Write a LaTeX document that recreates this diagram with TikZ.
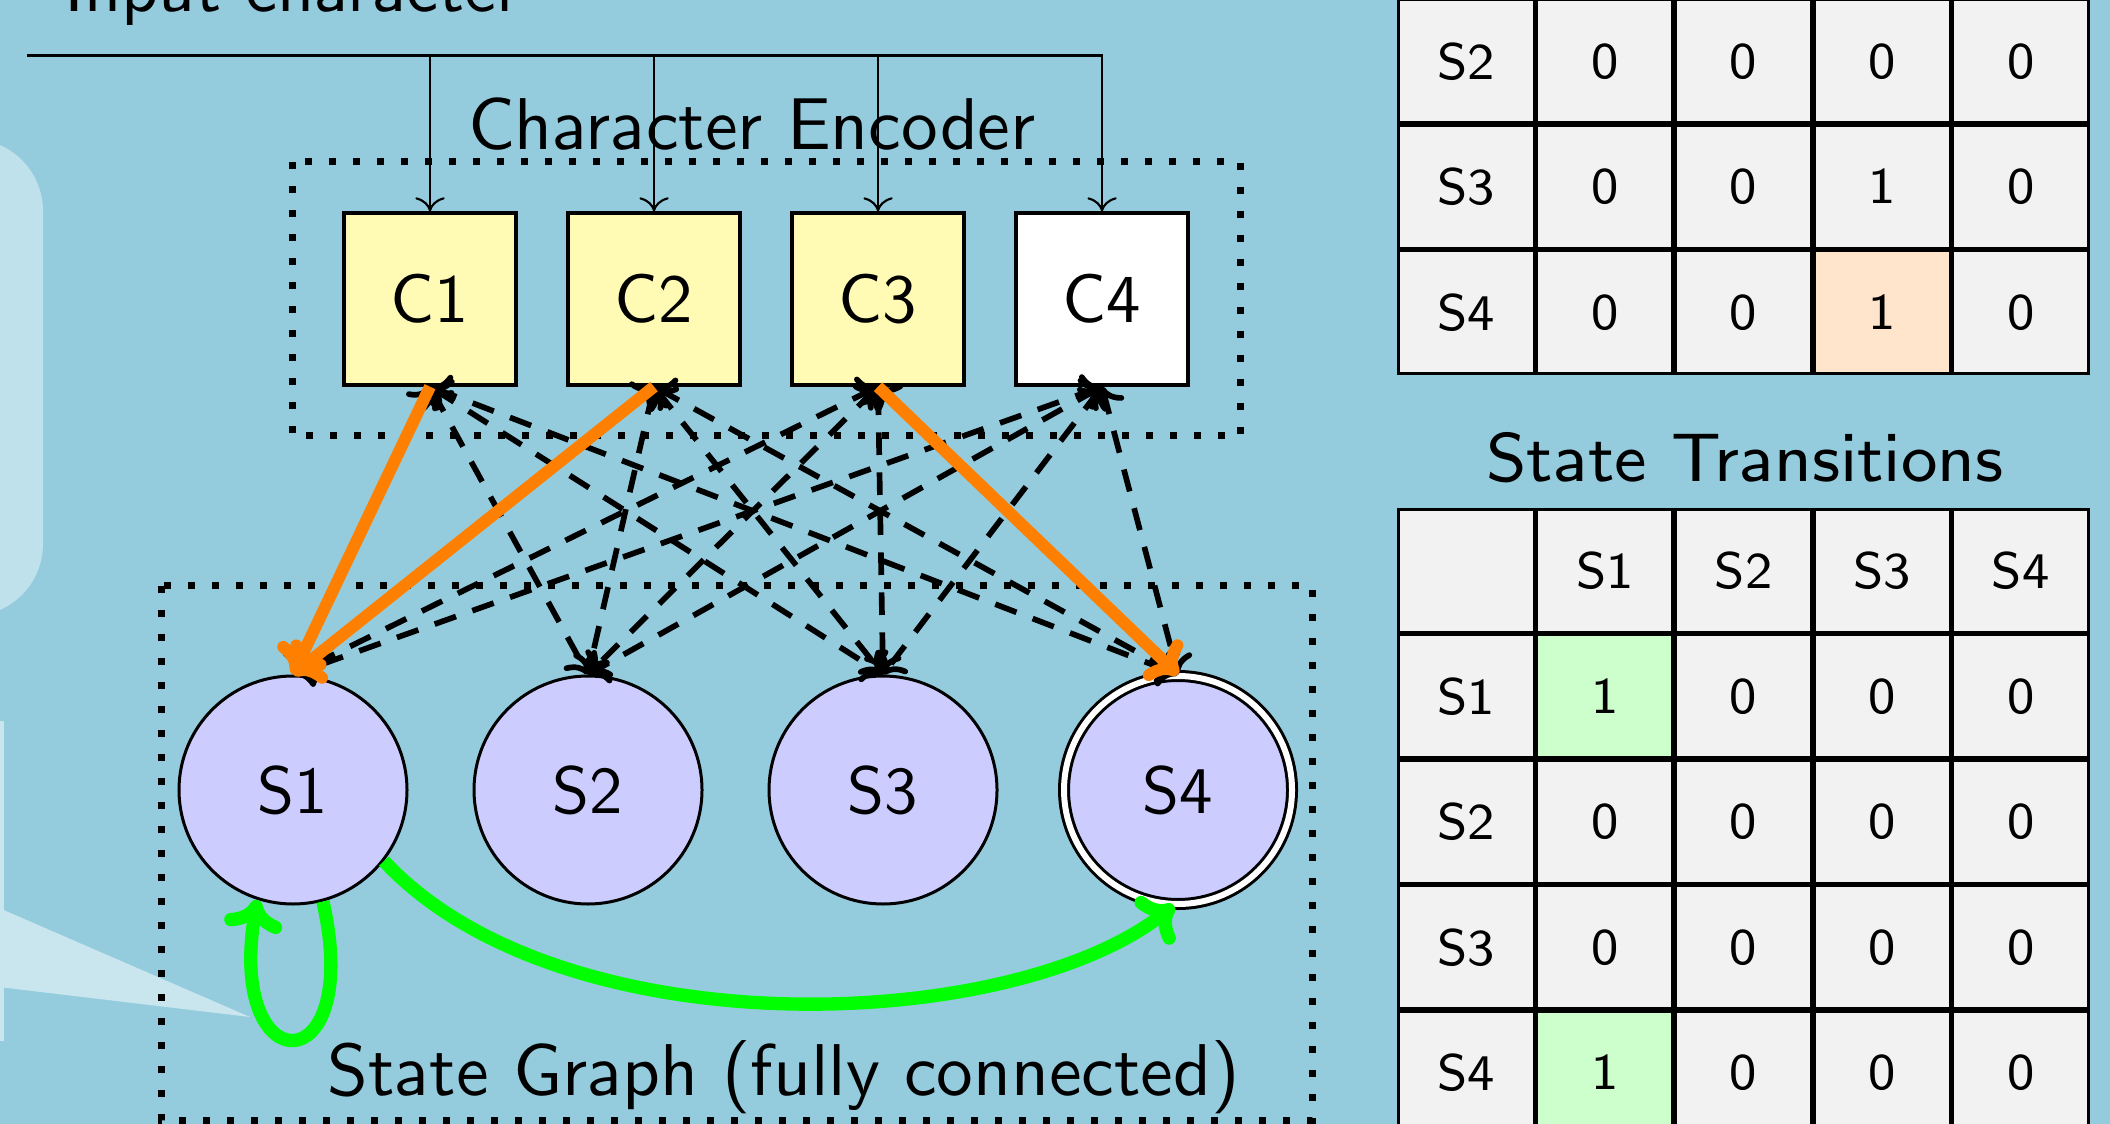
\documentclass[tikz,border=0pt]{standalone}
\usetikzlibrary{arrows.meta}
\definecolor{bgblue}{RGB}{148,204,222}
\definecolor{panelblue}{RGB}{190,225,235}
\definecolor{calloutblue}{RGB}{201,230,239}
\definecolor{boxyellow}{RGB}{255,250,180}
\definecolor{statefill}{RGB}{204,204,255}
\definecolor{cellgray}{RGB}{242,242,242}
\definecolor{higreen}{RGB}{204,255,204}
\definecolor{hiorange}{RGB}{255,229,204}
\definecolor{activeorange}{RGB}{255,128,0}
\definecolor{transgreen}{RGB}{0,255,0}
\font\fC=cmss10 at 10.3pt
\font\fS=cmss10 at 10pt
\font\fEnc=cmss10 at 11pt
\font\fGraph=cmss10 at 11pt
\font\fIn=cmss10 at 10.8pt
\font\fT=cmss8 at 7.7pt
\font\fTitle=cmss8 at 10.3pt
\begin{document}
\begin{tikzpicture}[x=0.15pt,y=-0.15pt,
  encbox/.style={draw=black, line width=0.5pt, fill=boxyellow, minimum size=25.8pt, inner sep=0pt, font=\fC},
  state/.style={circle, draw=black, line width=0.45pt, fill=statefill, minimum size=34.2pt, inner sep=0pt, font=\fS},
  accept/.style={state, double=white, double distance=0.9pt},
  groupbox/.style={draw=black, line width=1.05pt, dash pattern=on 1.05pt off 2.55pt},
  feed/.style={line width=0.32pt, -{To[length=2.1pt,width=4.4pt]}},
  link/.style={line width=0.85pt, dash pattern=on 3.4pt off 2.6pt, {To[length=2.8pt,width=5.6pt]}-{To[length=2.8pt,width=5.6pt]}},
  active/.style={draw=activeorange, line width=1.8pt, -{To[length=4pt,width=8pt]}},
  trans/.style={draw=transgreen, line width=2pt, -{To[length=4.6pt,width=8.8pt]}},
  cell/.style={draw=black, line width=0.45pt, fill=cellgray, minimum width=20.4pt, minimum height=18.4pt, inner sep=0pt, font=\fT}
]
\useasboundingbox (0,0) rectangle (2110,1124);
\clip (0,0) rectangle (2110,1124);
\fill[bgblue] (0,0) rectangle (2110,1124);

% left decorations
\fill[panelblue, rounded corners=10.8pt] (-150,139) rectangle (43,616);
\fill[calloutblue] (-50,721) rectangle (4,1041);
\fill[calloutblue] (-1,908) -- (250,1017) -- (-1,987) -- cycle;

% group frames
\draw[groupbox] (292,162) rectangle (1240,436);
\draw[groupbox] (161,586) rectangle (1312,1120);

% labels
\node[font=\fIn, anchor=base west, inner sep=0pt] (input) at (63,12) {Input character};
\node[font=\fEnc, anchor=base, inner sep=0pt] (enclabel) at (752,150) {Character Encoder};
\node[font=\fGraph, anchor=base, inner sep=0pt] (graphlabel) at (784,1095) {State Graph (fully connected)};

% encoder cells
\node[encbox] (C1) at (430,299) {C1};
\node[encbox] (C2) at (654,299) {C2};
\node[encbox] (C3) at (878,299) {C3};
\node[encbox, fill=white] (C4) at (1102,299) {C4};

% states
\node[state] (S1) at (293,790) {S1};
\node[state] (S2) at (588,790) {S2};
\node[state] (S3) at (883,790) {S3};
\node[accept] (S4) at (1178,790) {S4};

% input bus
\coordinate (busL) at (27,56);
\coordinate (busR) at (1103,56);
\draw[line width=0.45pt] (busL) -- (busR);
\foreach \c in {C1,C2,C3,C4} \draw[feed] (\c |- busL) -- (\c.north);

% full connections
\foreach \c in {C1,C2,C3,C4} \foreach \s in {S1,S2,S3,S4} \draw[link] (\c.south) -- (\s.north);

% active mappings
\draw[active] (C1.south) -- (S1.north);
\draw[active] (C2.south) -- (S1.north);
\draw[active] (C3.south) -- (S4.north);

% transitions
\draw[trans] (S1.-75) .. controls (365,1085) and (225,1085) .. (S1.-108);
\draw[trans] (S1.-38) .. controls (560,1050) and (1010,1035) .. (S4.-92);

% upper table (rows visible)
\foreach \lab/\y/\va/\vb/\vc/\vd/\fc in {S2/61.25/0/0/0/0/cellgray, S3/186.75/0/0/1/0/cellgray, S4/312.25/0/0/1/0/hiorange} {
  \node[cell] (up-\lab-0) at (1466.3,\y) {\lab};
  \node[cell] (up-\lab-1) at (1604.9,\y) {\va};
  \node[cell] (up-\lab-2) at (1743.5,\y) {\vb};
  \node[cell, fill=\fc] (up-\lab-3) at (1882.1,\y) {\vc};
  \node[cell] (up-\lab-4) at (2020.7,\y) {\vd};
}

% state transitions table
\node[font=\fTitle, anchor=base, inner sep=0pt] (ttitle) at (1745,482) {State Transitions};
\node[cell] (tr-h-0) at (1466.3,570.75) {};
\node[cell] (tr-h-1) at (1604.9,570.75) {S1};
\node[cell] (tr-h-2) at (1743.5,570.75) {S2};
\node[cell] (tr-h-3) at (1882.1,570.75) {S3};
\node[cell] (tr-h-4) at (2020.7,570.75) {S4};
\foreach \lab/\y/\va/\fa/\vb/\vc/\vd in {S1/696.25/1/higreen/0/0/0, S2/821.75/0/cellgray/0/0/0, S3/947.25/0/cellgray/0/0/0, S4/1072.75/1/higreen/0/0/0} {
  \node[cell] (tr-\lab-0) at (1466.3,\y) {\lab};
  \node[cell, fill=\fa] (tr-\lab-1) at (1604.9,\y) {\va};
  \node[cell] (tr-\lab-2) at (1743.5,\y) {\vb};
  \node[cell] (tr-\lab-3) at (1882.1,\y) {\vc};
  \node[cell] (tr-\lab-4) at (2020.7,\y) {\vd};
}
\end{tikzpicture}
\end{document}
